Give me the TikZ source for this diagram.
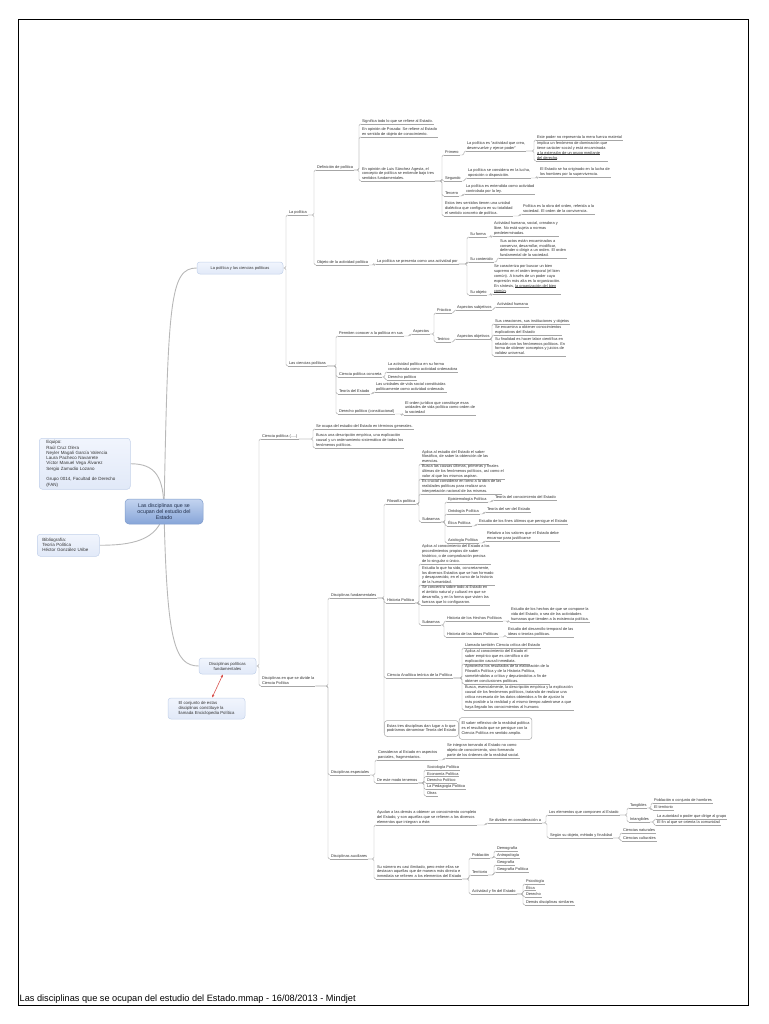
\documentclass[tikz,border=0pt]{standalone}
\usepackage{fontspec}
\setmainfont{Liberation Sans}
\usetikzlibrary{arrows.meta}
\pgfdeclarelayer{background}
\pgfsetlayers{background,main}
\definecolor{ln}{HTML}{A6A6A6}
\definecolor{tx}{HTML}{333333}
\definecolor{bxf}{HTML}{F1F5FD}
\definecolor{bxf2}{HTML}{E1E9F8}
\definecolor{bxb}{HTML}{C3D1EA}
\definecolor{rt1}{HTML}{C3D4F0}
\definecolor{rt2}{HTML}{87A5D8}
\definecolor{rtb}{HTML}{7F9CCB}
\definecolor{rtx}{HTML}{1F2D4A}
\definecolor{rel}{HTML}{D9534F}
\definecolor{trk}{HTML}{B8B8B8}
\newcommand\fs{\fontsize{3.9}{4.9}\selectfont}
\newcommand\hl[1]{\setbox0\hbox{#1}\rlap{\rule[-0.8pt]{\wd0}{0.7pt}}\box0}
\tikzset{
  tp/.style={anchor=south west, inner xsep=0.8pt, inner ysep=0.9pt, align=left, font=\fs, text=tx},
  ul/.style={draw=ln, line width=0.45pt},
  conn/.style={draw=ln, line width=0.45pt, rounded corners=1.5pt},
  trunk/.style={draw=trk, line width=0.9pt},
  lbox/.style={draw=bxb, top color=bxf, bottom color=bxf2, rounded corners=3pt, line width=0.5pt, text=tx},
  tbox/.style={draw=ln, fill=white, rounded corners=3pt, line width=0.5pt, align=left, font=\fs, text=tx, inner xsep=2.5pt, inner ysep=1.5pt}
}
\newcommand\Tn[4]{\node[tp] (#1) at (#2,#3) {#4};\begin{pgfonlayer}{background}\draw[ul] (#1.south west) -- (#1.south east);\end{pgfonlayer}}
\newcommand\Lk[2]{\begin{pgfonlayer}{background}\draw[conn] (#1.south east) -| ([xshift=-2pt]#2.south west) -- (#2.south west);\end{pgfonlayer}}
\newcommand\Lb[2]{\begin{pgfonlayer}{background}\draw[conn] (#1.east) -| ([xshift=-2pt]#2.south west) -- (#2.south west);\end{pgfonlayer}}
\begin{document}
\begin{tikzpicture}[x=1pt,y=-1pt]
\useasboundingbox (0,0) rectangle (768,1024);
\draw[line width=1pt] (18.5,19.5) rectangle (748.5,1005);
\node[anchor=base west, inner sep=0pt, font=\fontsize{9.2}{11}\selectfont] (footer) at (19.5,1001) {Las disciplinas que se ocupan del estudio del Estado.mmap - 16/08/2013 - Mindjet};

% ---------- central and left boxes
\node[draw=rtb, top color=rt1, bottom color=rt2, rounded corners=4pt, line width=0.5pt, minimum width=78pt, minimum height=25pt, align=center, font=\fontsize{5.3}{5.8}\selectfont, text=rtx] (root) at (164,511.5) {Las disciplinas que se\\ocupan del estudio del\\Estado};
\node[lbox, anchor=north west, minimum height=51pt, text width=77pt, inner xsep=7pt, inner ysep=2pt, align=left, font=\fontsize{4.5}{5.3}\selectfont] (equipo) at (39,438) {Equipo:\\Raúl Cruz Olera\\Neyler Magali García Valencia\\Laura Pacheco Navarrete\\Víctor Manuel Vega Álvarez\\Sergio Zamudio Lozano\\[5.3pt]Grupo 0014, Facultad de Derecho\\(FAN)};
\node[lbox, anchor=north west, minimum height=22pt, text width=52pt, inner xsep=5pt, inner ysep=2pt, align=left, font=\fontsize{4.5}{5.1}\selectfont] (bib) at (37,534) {Bibliografía:\\Teoría Política\\Héctor González Uribe};
\node[lbox, minimum width=86pt, minimum height=12pt, font=\fontsize{4}{4.8}\selectfont] (p1) at (240,268) {La política y las ciencias políticas};
\node[lbox, minimum width=57pt, minimum height=16pt, align=center, font=\fontsize{4.2}{5}\selectfont] (p2) at (227.5,666) {Disciplinas políticas\\fundamentales};
\node[lbox, minimum width=77pt, minimum height=21pt, align=left, font=\fontsize{4.3}{5}\selectfont] (conj) at (206.5,708.5) {El conjunto de estas\\disciplinas constituye la\\llamada Enciclopedia Política};
\begin{pgfonlayer}{background}
\draw[trunk] (root.center) .. controls +(0,-35) and +(25,0) .. (equipo.east);
\draw[trunk] (root.center) .. controls +(-5,30) and +(30,0) .. (bib.east);
\draw[trunk] (root.center) .. controls (168,300) and (170,268) .. (p1.west);
\draw[trunk] (root.center) .. controls (167,640) and (174,666) .. (p2.west);
\end{pgfonlayer}
\draw[rel, line width=0.6pt, {Latex[length=3pt,width=2.6pt]}-{Latex[length=3pt,width=2.6pt]}] ([xshift=5.5pt]conj.north) -- ([xshift=-4.5pt]p2.south);

% ---------- La politica
\Tn{lapol}{288}{215}{La política}
\Tn{defpol}{316}{170}{Definición de política}
\Tn{sig}{361}{124}{Significa todo lo que se refiere al Estado.}
\Tn{pos}{361}{137}{En opinión de Posada: Se refiere al Estado\\en sentido de objeto de conocimiento.}
\Tn{lsa}{361}{181}{En opinión de Luis Sánchez Agesta, el\\concepto de política se entiende bajo tres\\sentidos fundamentales.}
\Tn{pri}{444}{155}{Primero}
\Tn{pri1}{466}{151}{La política es “actividad que crea,\\desenvuelve y ejerce poder”}
\Tn{pod}{536}{140}{Este poder no representa la mera fuerza material}
\Tn{imp}{536}{161}{Implica un fenómeno de dominación que\\tiene carácter social y está encaminada\\\hl{a la extensión de un grupo mediante}\\\hl{del derecho}.}
\Tn{seg}{444}{181}{Segundo}
\Tn{seg1}{467}{178}{La política se considera en la lucha,\\oposición o disposición.}
\Tn{seg2}{539}{177}{El Estado se ha originado en la lucha de\\los hombres por la supervivencia.}
\Tn{ter}{444}{196}{Tercero}
\Tn{ter1}{465}{194}{La política es entendida como actividad\\controlada por la ley.}
\Tn{est}{444}{216}{Estos tres sentidos tienen una unidad\\dialéctica que configura en su totalidad\\el sentido concreto de política.}
\Tn{est1}{522}{214}{Política es la obra del orden, referida a la\\sociedad. El orden de la convivencia.}
\Tn{obj}{316}{265}{Objeto de la actividad política}
\Tn{obj1}{376}{264}{La política se presenta como una actividad por}
\Tn{forma}{469}{237}{Su forma}
\Tn{forma1}{493}{236}{Actividad humana, social, creadora y\\libre. No está sujeta a normas\\predeterminadas.}
\Tn{cont}{469}{262}{Su contenido}
\Tn{cont1}{499}{258}{Sus actos están encaminados a\\conservar, desarrollar, modificar,\\defender o dirigir a un orden. El orden\\fundamental de la sociedad.}
\Tn{objeto}{469}{295}{Su objeto}
\Tn{objeto1}{493}{294}{Se caracteriza por buscar un bien\\supremo en el orden temporal (el bien\\común). A través de un poder cuya\\expresión más alta es la organización.\\En síntesis, \hl{la organización del bien}\\\hl{común}.}
% ---------- Las ciencias politicas
\Tn{cp}{288}{366}{Las ciencias políticas}
\Tn{perm}{338}{336}{Permiten conocer a la política en sus}
\Tn{asp}{412}{334}{Aspectos}
\Tn{prac}{436}{313}{Práctico}
\Tn{subj}{456}{310}{Aspectos subjetivos}
\Tn{act}{496}{307}{Actividad humana}
\Tn{teo}{436}{342}{Teórico}
\Tn{aobj}{456}{339}{Aspectos objetivos}
\Tn{o1}{494}{324}{Sus creaciones, sus instituciones y objetos}
\Tn{o2}{494}{335}{Se encamina a obtener conocimientos\\explicativos del Estado}
\Tn{o3}{494}{356}{Su finalidad es hacer labor científica en\\relación con los fenómenos políticos. En\\forma de obtener conceptos y juicios de\\validez universal.}
\Tn{cpc}{338}{377}{Ciencia política concreta}
\Tn{cpc1}{387}{372}{La actividad política en su forma\\considerada como actividad ordenadora}
\Tn{dp}{387}{380}{Derecho político}
\Tn{te}{338}{394}{Teoría del Estado}
\Tn{te1}{375}{392}{Las unidades de vida social constituidas\\políticamente como actividad ordenada}
\Tn{dpc}{338}{414}{Derecho político (constitucional)}
\Tn{dpc1}{404}{415}{El orden jurídico que constituye esas\\unidades de vida política como orden de\\la sociedad}
% ---------- Ciencia politica
\Tn{cpol}{261}{439}{Ciencia política (.....)}
\Tn{se}{315}{429}{Se ocupa del estudio del Estado en términos generales.}
\Tn{bu}{315}{448}{Busca una descripción empírica, una explicación\\causal y un ordenamiento sistemático de todos los\\fenómenos políticos.}
% ---------- Disciplinas
\Tn{dis}{261}{686}{Disciplinas en que se divide la\\Ciencia Política}
\Tn{fund}{330}{598}{Disciplinas fundamentales}
\Tn{filo}{386}{504}{Filosofía política}
\Tn{f1}{421}{464}{Aplica al estudio del Estado el saber\\filosófico, de saber la obtención de las\\esencias.}
\Tn{f2}{421}{479}{Busca las causas últimas, primeras y finales\\últimas de los fenómenos políticos, así como el\\valor al que los mismos aspiran.}
\Tn{f3}{421}{494}{Es crucial considerar en torno a la obra de las\\realidades políticas para realizar una\\interpretación racional de las mismas.}
\Tn{sub}{421}{522}{Subramas}
\Tn{epi}{447}{502}{Epistemología Política}
\Tn{epi1}{494}{500}{Teoría del conocimiento del Estado}
\Tn{ont}{447}{514}{Ontología Política}
\Tn{ont1}{486}{512}{Teoría del ser del Estado}
\Tn{eti}{447}{526}{Ética Política}
\Tn{eti1}{478}{524}{Estudio de los fines últimos que persigue el Estado}
\Tn{axi}{447}{543}{Axiología Política}
\Tn{axi1}{486}{541}{Relativo a los valores que el Estado debe\\encarnar para justificarse}
\Tn{hist}{386}{603}{Historia Política}
\Tn{h1}{421}{564}{Aplica al conocimiento del Estado a los\\procedimientos propios de saber\\histórico, o de comprobación precisa\\de lo singular o único.}
\Tn{h2}{421}{585}{Estudia lo que ha sido, concretamente,\\los diversos Estados que se han formado\\y desaparecido, en el curso de la historia\\de la humanidad.}
\Tn{h3}{421}{605}{Se concentra sobre todo al Estado en\\el ámbito natural y cultural en que se\\desarrolla, y en la forma que visten las\\fuerzas que lo configuraron.}
\Tn{sub2}{421}{625}{Subramas}
\Tn{hhp}{446}{621}{Historia de los Hechos Políticos}
\Tn{hhp1}{510}{622}{Estudio de los hechos de que se compone la\\vida del Estado, o sea de las actividades\\humanas que tienden a la existencia política.}
\Tn{hip}{446}{637}{Historia de las Ideas Políticas}
\Tn{hip1}{507}{637}{Estudio del desarrollo temporal de las\\ideas o teorías políticas.}
\Tn{cat}{386}{678}{Ciencia Analítica teórica de la Política}
\Tn{c1}{464}{648}{Llamada también Ciencia crítica del Estado}
\Tn{c2}{464}{664}{Aplica al conocimiento del Estado el\\saber empírico que es científico o de\\explicación causal inmediata.}
\Tn{c3}{464}{684}{Aprovecha los resultados de la elaboración de la\\Filosofía Política y de la Historia Política,\\sometiéndolos a crítica y depurándolos a fin de\\obtener conclusiones políticas.}
\Tn{c4}{464}{710}{Busca, esencialmente, la descripción empírica y la explicación\\causal de los fenómenos políticos, tratando de realizar una\\crítica necesaria de los datos obtenidos a fin de ajustar lo\\más posible a la realidad y al mismo tiempo adentrarse a que\\haya llegado los conocimientos al humano.}
\node[tbox, anchor=west, minimum height=16pt] (estas) at (384,728.5) {Estas tres disciplinas dan lugar a lo que\\podríamos denominar Teoría del Estado};
\node[tbox, anchor=west, minimum height=22pt] (sab) at (estas.east) {El saber reflexivo de la realidad política\\es el resultado que se persigue con la\\Ciencia Política en sentido amplio.};
\Tn{esp}{330}{775}{Disciplinas especiales}
\Tn{esp1}{377}{760}{Consideran al Estado en aspectos\\parciales, fragmentarios.}
\Tn{esp1a}{446}{758}{Se integran tomando al Estado no como\\objeto de conocimiento, sino formando\\parte de los órdenes de la realidad social.}
\Tn{esp2}{376}{783}{De este modo tenemos}
\Tn{s1}{426}{770}{Sociología Política}
\Tn{s2}{426}{776.5}{Economía Política}
\Tn{s3}{426}{783}{Derecho Político}
\Tn{s4}{426}{789.5}{La Pedagogía Política}
\Tn{s5}{426}{796}{Otras}
\Tn{aux}{330}{859}{Disciplinas auxiliares}
\Tn{aux1}{376}{825}{Ayudan a las demás a obtener un conocimiento completo\\del Estado, y son aquellas que se refieren a los diversos\\elementos que integran a éste.}
\Tn{aux1a}{488}{823}{Se dividen en consideración a}
\Tn{elem}{548}{815}{Los elementos que componen al Estado}
\Tn{tang}{629}{808}{Tangibles}
\Tn{t1}{653}{803}{Población o conjunto de hombres}
\Tn{t2}{653}{810}{El territorio}
\Tn{intang}{629}{822}{Intangibles}
\Tn{i1}{656}{819}{La autoridad o poder que dirige al grupo}
\Tn{i2}{656}{825.5}{El fin al que se orienta la comunidad}
\Tn{segun}{549}{838}{Según su objeto, método y finalidad}
\Tn{cn}{622}{833}{Ciencias naturales}
\Tn{cc}{622}{841}{Ciencias culturales}
\Tn{aux2}{376}{879}{Su número es casi ilimitado, pero entre ellas se\\destacan aquellas que de manera más directa e\\inmediata se refieren a los elementos del Estado}
\Tn{pob}{471}{858}{Población}
\Tn{dem}{496}{851}{Demografía}
\Tn{ant}{496}{858}{Antropología}
\Tn{ter2}{471}{875}{Territorio}
\Tn{geo}{496}{865}{Geografía}
\Tn{geop}{496}{872}{Geografía Política}
\Tn{afe}{471}{894}{Actividad y fin del Estado}
\Tn{psi}{525}{884}{Psicología}
\Tn{eti2}{525}{890.5}{Ética}
\Tn{der}{525}{897}{Derecho}
\Tn{dem2}{525}{905}{Demás disciplinas similares}

% ---------- connectors
\Lb{p1}{lapol}\Lb{p1}{cp}
\Lb{p2}{cpol}\Lb{p2}{dis}
\Lk{lapol}{defpol}\Lk{lapol}{obj}
\Lk{defpol}{sig}\Lk{defpol}{pos}\Lk{defpol}{lsa}
\Lk{lsa}{pri}\Lk{lsa}{seg}\Lk{lsa}{ter}\Lk{lsa}{est}
\Lk{pri}{pri1}\Lk{pri1}{pod}\Lk{pri1}{imp}
\Lk{seg}{seg1}\Lk{seg1}{seg2}
\Lk{ter}{ter1}\Lk{est}{est1}
\Lk{obj}{obj1}\Lk{obj1}{forma}\Lk{obj1}{cont}\Lk{obj1}{objeto}
\Lk{forma}{forma1}\Lk{cont}{cont1}\Lk{objeto}{objeto1}
\Lk{cp}{perm}\Lk{cp}{cpc}\Lk{cp}{te}\Lk{cp}{dpc}
\Lk{perm}{asp}\Lk{asp}{prac}\Lk{asp}{teo}\Lk{prac}{subj}\Lk{subj}{act}
\Lk{teo}{aobj}\Lk{aobj}{o1}\Lk{aobj}{o2}\Lk{aobj}{o3}
\Lk{cpc}{cpc1}\Lk{cpc}{dp}\Lk{te}{te1}\Lk{dpc}{dpc1}
\Lk{cpol}{se}\Lk{cpol}{bu}
\Lk{dis}{fund}\Lk{dis}{esp}\Lk{dis}{aux}
\Lk{fund}{filo}\Lk{fund}{hist}\Lk{fund}{cat}
\begin{pgfonlayer}{background}
\draw[conn] (fund.south east) -| ([yshift=4pt]estas.south west);
\draw[ln, line width=0.45pt] (estas.east) -- (sab.west);
\end{pgfonlayer}
\Lk{filo}{f1}\Lk{filo}{f2}\Lk{filo}{f3}\Lk{filo}{sub}
\Lk{sub}{epi}\Lk{sub}{ont}\Lk{sub}{eti}\Lk{sub}{axi}
\Lk{epi}{epi1}\Lk{ont}{ont1}\Lk{eti}{eti1}\Lk{axi}{axi1}
\Lk{hist}{h1}\Lk{hist}{h2}\Lk{hist}{h3}\Lk{hist}{sub2}
\Lk{sub2}{hhp}\Lk{sub2}{hip}\Lk{hhp}{hhp1}\Lk{hip}{hip1}
\Lk{cat}{c1}\Lk{cat}{c2}\Lk{cat}{c3}\Lk{cat}{c4}
\Lk{esp}{esp1}\Lk{esp}{esp2}\Lk{esp1}{esp1a}
\Lk{esp2}{s1}\Lk{esp2}{s2}\Lk{esp2}{s3}\Lk{esp2}{s4}\Lk{esp2}{s5}
\Lk{aux}{aux1}\Lk{aux}{aux2}\Lk{aux1}{aux1a}
\Lk{aux1a}{elem}\Lk{aux1a}{segun}
\Lk{elem}{tang}\Lk{elem}{intang}\Lk{tang}{t1}\Lk{tang}{t2}\Lk{intang}{i1}\Lk{intang}{i2}
\Lk{segun}{cn}\Lk{segun}{cc}
\Lk{aux2}{pob}\Lk{aux2}{ter2}\Lk{aux2}{afe}
\Lk{pob}{dem}\Lk{pob}{ant}\Lk{ter2}{geo}\Lk{ter2}{geop}
\Lk{afe}{psi}\Lk{afe}{eti2}\Lk{afe}{der}\Lk{afe}{dem2}
\end{tikzpicture}
\end{document}
